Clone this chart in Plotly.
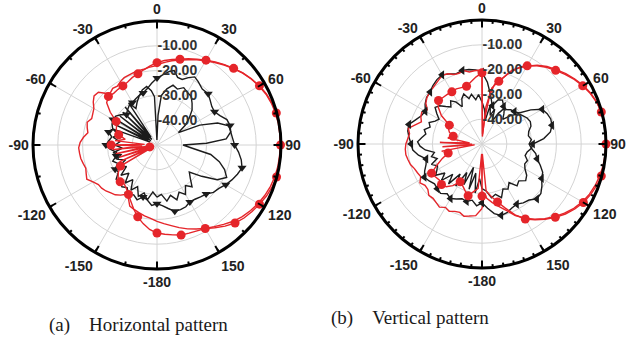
import plotly.graph_objects as go

# ---------------------------------------------------------------
# Radiation patterns, gain in dB versus azimuth angle (degrees,
# clockwise from 0 at the top).
# ---------------------------------------------------------------

# (a) Horizontal pattern
h_red1_theta = [-180, -175, -170, -165, -160, -155, -150, -145, -140, -135, -130, -125, -120,
                -117, -114, -111, -108, -105, -102, -99, -96, -93, -90, -87, -84, -80, -75,
                -70, -65, -60, -55, -50, -45, -40, -35, -30, -25, -20, -15, -10, -5, 0,
                5, 10, 15, 20, 25, 30, 35, 40, 45, 50, 55, 60, 65, 70, 75, 80, 85, 90,
                95, 100, 105, 110, 115, 120, 125, 130, 135, 140, 145, 150, 155, 160, 165,
                170, 175, 180]
h_red1_db = [-14.5, -15.8, -17.8, -20.0, -22.5, -25.0, -27.0, -28.5, -29.5, -29.0, -29.5, -31.0, -33.0,
             -47.0, -33.5, -46.0, -34.0, -47.0, -33.0, -46.0, -32.0, -44.0, -31.5, -45.0, -33.0, -37.0, -34.0,
             -32.5, -32.0, -31.0, -27.0, -23.5, -22.3, -22.8, -22.6, -22.5, -22.0, -21.0, -20.3, -19.2, -18.0, -16.8,
             -15.8, -15.0, -14.2, -13.0, -11.8, -10.5, -9.1, -7.7, -6.3, -4.8, -3.5, -2.3, -1.3, -0.6, -0.2, -0.1, -0.1, -0.2,
             -0.1, -0.1, -0.1, -0.6, -1.3, -2.3, -3.2, -4.2, -5.5, -7.3, -9.3, -11.1, -11.8, -12.2, -12.4,
             -13.2, -13.9, -14.5]

h_red2_theta = [-180, -175, -170, -165, -160, -156, -152, -148, -144, -140, -136, -132, -128, -124,
                -120, -116, -112, -108, -104, -100, -96, -92, -88, -84, -80, -76, -72, -68, -64,
                -60, -56, -52, -48, -45, -42, -38, -34, -30, -26, -22, -18, -14, -10, -6, -2,
                2, 6, 10, 15, 20, 25, 30, 35, 40, 45, 50, 55, 60, 65, 70, 75, 80, 85, 90,
                95, 100, 105, 110, 115, 120, 125, 130, 135, 140, 145, 150, 155, 160, 165,
                170, 175, 180]
h_red2_db = [-19.2, -20.3, -21.0, -21.8, -22.5, -23.0, -25.5, -26.6, -25.0, -23.8, -23.2, -22.3, -21.7, -21.5,
             -20.2, -18.5, -19.2, -19.8, -19.3, -18.8, -18.6, -18.4, -19.0, -20.2, -21.7, -21.0, -20.4, -21.6, -21.2,
             -20.6, -19.0, -17.8, -18.2, -20.5, -21.8, -21.0, -21.4, -20.5, -19.8, -19.6, -19.3, -19.1, -19.0, -18.5, -18.2,
             -17.2, -16.4, -15.5, -14.5, -13.4, -12.1, -10.8, -9.4, -7.9, -6.4, -4.9, -3.6, -2.5, -1.5, -0.9, -0.5, -0.3, -0.3, -0.3,
             -0.4, -0.5, -0.8, -1.3, -2.0, -2.9, -3.9, -5.1, -6.5, -8.2, -9.8, -11.2, -12.6, -14.0, -15.5,
             -17.0, -18.2, -19.2]

h_blk1_theta = [-180, -175, -170, -165, -160, -155, -150, -145, -140, -135, -130, -125, -120,
                -115, -110, -105, -100, -95, -90, -85, -80, -75, -70, -65, -60, -55, -50, -45,
                -40, -35, -30, -25, -20, -15, -10, -5, 0, 5, 10, 13, 17, 21, 25, 29, 33, 39,
                45, 50, 55, 60, 65, 70, 75, 80, 85, 90, 95, 100, 105, 110, 115, 120, 125, 130,
                135, 140, 145, 150, 155, 160, 165, 170, 175, 180]
h_blk1_db = [-26.3, -25.5, -27.5, -28.3, -26.5, -27.8, -27.0, -29.0, -28.0, -29.0, -28.5, -31.0, -30.5,
             -32.5, -31.0, -33.0, -33.4, -31.0, -29.4, -30.5, -31.5, -29.8, -31.0, -30.0, -29.5, -29.7, -31.0, -32.6,
             -31.5, -30.5, -30.2, -29.5, -28.8, -28.3, -27.0, -25.0, -23.0, -21.5, -19.8, -19.2, -21.5, -21.7, -20.0, -18.6, -19.5, -21.0,
             -20.8, -22.0, -23.0, -23.2, -22.0, -20.0, -19.5, -19.8, -19.4, -18.7, -17.0, -15.5, -14.5, -15.5, -16.7, -18.0, -19.5, -20.3,
             -22.0, -22.7, -23.3, -23.5, -22.5, -22.3, -22.3, -24.0, -25.5, -26.3]

h_blk2_theta = [-180, -175, -170, -165, -160, -155, -150, -145, -140, -135, -130, -125, -120,
                -115, -110, -105, -100, -95, -90, -85, -80, -75, -70, -67, -64, -61, -58, -55,
                -52, -49, -46, -43, -40, -37, -34, -30, -25, -20, -15, -10, -6, -3, -1, 2, 5,
                10, 15, 20, 25, 30, 35, 40, 45, 50, 55, 60, 65, 70, 75, 80, 85, 88, 90, 95,
                100, 105, 110, 115, 120, 125, 130, 135, 140, 145, 150, 155, 160, 165, 170, 175, 180]
h_blk2_db = [-29.0, -31.0, -27.5, -30.0, -28.0, -31.5, -29.0, -33.0, -30.0, -34.0, -31.0, -35.0, -32.0,
             -36.0, -33.0, -35.0, -32.0, -36.0, -33.0, -35.0, -32.0, -34.0, -31.0, -47.0, -31.0, -46.0, -30.5, -47.0,
             -31.0, -46.0, -31.0, -47.0, -30.0, -46.0, -29.5, -33.0, -31.0, -29.0, -27.0, -26.0, -28.0, -30.5, -48.0, -38.0, -30.0,
             -27.0, -25.0, -26.0, -24.5, -25.5, -26.0, -28.0, -30.0, -33.0, -36.0, -40.0, -31.0, -24.0, -20.0, -19.8, -22.0, -30.0, -39.5, -36.0,
             -28.0, -24.0, -21.0, -19.0, -22.0, -28.0, -33.0, -31.0, -28.0, -30.0, -27.0, -29.0, -26.5, -29.0, -27.0, -30.0, -29.0]

# (b) Vertical pattern
v_red1_theta = [-180, -178, -175, -170, -165, -160, -155, -150, -145, -140, -135, -130, -125, -120,
                -115, -110, -105, -100, -97, -94, -91, -88, -85, -80, -75, -70, -65, -60, -55,
                -50, -45, -40, -35, -30, -25, -20, -15, -10, -5, 0, 3, 6, 10, 15, 20, 25, 30,
                35, 40, 45, 50, 55, 60, 65, 70, 75, 80, 85, 90, 95, 100, 105, 110, 115, 120,
                125, 130, 135, 140, 145, 150, 155, 160, 165, 170, 175, 178, 180]
v_red1_db = [-29.0, -46.0, -32.0, -30.5, -28.4, -30.0, -31.5, -32.4, -29.5, -27.5, -26.9, -27.5, -27.0, -26.5,
             -30.0, -33.0, -35.9, -33.5, -47.0, -34.0, -46.0, -33.0, -45.0, -36.0, -38.0, -36.0, -35.0, -34.8, -30.0,
             -27.0, -25.2, -25.5, -25.6, -25.7, -25.5, -25.8, -25.9, -24.5, -22.8, -21.3, -47.0, -35.0, -27.0, -23.8, -20.0, -16.5, -13.6,
             -11.5, -9.6, -8.0, -6.3, -4.6, -3.1, -1.8, -0.8, -0.2, 0.0, 0.0, 0.0, 0.0, -0.1, -0.2, -0.8, -1.7, -2.8,
             -4.3, -6.1, -8.2, -10.4, -12.7, -15.1, -18.5, -22.5, -25.8, -28.5, -31.0, -46.0, -29.0]

v_red2_theta = [-180, -175, -170, -166, -162, -158, -154, -150, -146, -142, -138, -134, -130, -126,
                -122, -118, -114, -110, -106, -102, -98, -94, -90, -86, -82, -78, -74, -70, -66,
                -62, -58, -54, -50, -46, -42, -38, -34, -30, -26, -22, -18, -14, -10, -6, -3, 0,
                3, 6, 9, 12, 17, 22, 27, 31, 35, 40, 45, 50, 55, 60, 65, 70, 75, 80, 85, 90,
                95, 100, 105, 110, 115, 120, 125, 130, 135, 140, 145, 150, 155, 160, 165, 170,
                175, 177, 180]
v_red2_db = [-24.0, -21.0, -20.5, -20.0, -21.0, -20.7, -19.8, -20.5, -19.3, -20.0, -20.5, -20.2, -21.5, -21.6,
             -20.5, -22.0, -21.5, -21.0, -20.0, -19.5, -19.0, -19.0, -19.3, -20.0, -20.5, -19.6, -22.0, -24.0, -23.0,
             -22.5, -24.0, -22.0, -21.0, -20.4, -20.0, -19.5, -18.8, -18.0, -18.5, -19.8, -20.0, -19.5, -20.5, -20.3, -20.2, -20.5,
             -46.0, -40.0, -30.0, -25.3, -22.6, -18.0, -15.0, -13.3, -11.2, -9.2, -7.6, -5.9, -4.3, -2.8, -1.6, -0.7, -0.2, -0.1, -0.1, -0.1,
             -0.2, -0.4, -0.8, -1.4, -2.2, -3.3, -4.8, -6.6, -8.6, -10.7, -13.0, -15.5, -18.2, -21.5, -24.0, -26.0,
             -28.0, -30.0, -24.0]

v_blk1_theta = list(range(-180, 181, 5))
v_blk1_db = [-26.3, -25.0, -27.0, -26.0, -26.5, -25.5, -24.6, -25.5, -24.0, -24.5, -25.0, -24.0, -23.2,
             -24.5, -26.0, -26.7, -24.0, -22.0, -21.4, -20.5, -19.6, -19.5, -21.5, -23.0, -23.6, -22.0, -20.8,
             -20.4, -19.2, -18.3, -17.8, -18.8, -19.8, -19.3, -19.5, -20.0, -21.0,
             -25.0, -30.0, -34.0, -31.0, -30.5, -32.5, -33.0, -32.0, -31.5, -30.5, -26.0, -22.0, -21.0, -20.5,
             -20.8, -22.0, -25.0, -29.5, -30.0, -28.0, -27.0, -25.0, -23.0, -22.2, -20.5, -19.0, -18.7, -20.5,
             -21.0, -22.0, -21.5, -20.5, -20.2, -21.5, -24.0, -26.3]

v_blk2_theta = [-180, -176, -172, -168, -164, -160, -156, -152, -148, -144, -140, -136, -132, -128,
                -124, -120, -116, -112, -108, -104, -100, -96, -92, -88, -84, -80, -76, -72, -68,
                -64, -60, -56, -52, -48, -44, -40, -36, -32, -28, -24, -20, -16, -12, -8, -4, 0,
                4, 8, 12, 16, 20, 24, 28, 32, 36, 40, 45, 50, 55, 60, 65, 70, 75, 80, 85, 90,
                95, 100, 105, 110, 115, 120, 125, 130, 135, 140, 145, 150, 155, 160, 165, 170, 175, 180]
v_blk2_db = [-32.0, -36.0, -30.0, -38.0, -31.0, -40.0, -32.0, -37.0, -30.0, -35.0, -29.0, -33.0, -28.0, -31.0,
             -27.5, -29.0, -30.0, -28.0, -31.0, -29.0, -30.5, -27.0, -25.0, -24.0, -25.5, -27.0, -26.0, -28.0, -27.0,
             -29.0, -30.0, -28.0, -26.0, -27.0, -29.0, -30.5, -28.5, -30.0, -33.0, -30.0, -28.5, -31.0, -29.5, -32.0, -30.0, -33.0,
             -36.0, -40.0, -34.0, -38.0, -35.0, -40.0, -36.0, -33.0, -35.0, -37.0, -34.0, -31.0, -30.0, -29.0, -28.5, -29.0, -30.5, -31.0, -30.0, -31.0,
             -30.0, -31.5, -32.0, -30.5, -31.0, -30.0, -28.0, -27.0, -29.0, -28.0, -31.0, -29.0, -30.0, -27.0, -29.0, -28.0, -31.0, -32.0]

# Angular tick labels (clockwise, 0 at top)
ang_vals = [0, 30, 60, 90, 120, 150, 180, 210, 240, 270, 300, 330]
ang_text = ['0', '30', '60', '90', '120', '150', '-180', '-150', '-120', '-90', '-60', '-30']
rad_vals = [-40, -30, -20, -10]
rad_text = ['-40.00', '-30.00', '-20.00', '-10.00']

captions = ['(a)\u00a0\u00a0\u00a0\u00a0Horizontal pattern', '(b)\u00a0\u00a0\u00a0\u00a0Vertical pattern']

RED = '#e5252a'
BLACK = '#1c1c1c'
SANS = 'Liberation Sans, Arial, sans-serif'
SERIF = 'Liberation Serif, Times New Roman, serif'


def bold(labels):
    return ['<b>%s</b>' % s for s in labels]


def every_15(theta, r):
    pts = [(t, v) for t, v in zip(theta, r) if t % 15 == 0 and t != -180]
    return [p[0] for p in pts], [p[1] for p in pts]


fig = go.Figure()


def add_panel(sub, red1, red2, blk1, blk2, tri_symbol):
    for (th, rr) in (blk2, blk1):
        fig.add_trace(go.Scatterpolar(theta=th, r=rr, mode='lines', subplot=sub,
                                      line=dict(color=BLACK, width=1.4), showlegend=False))
    for (th, rr) in (red2, red1):
        fig.add_trace(go.Scatterpolar(theta=th, r=rr, mode='lines', subplot=sub,
                                      line=dict(color=RED, width=1.4), showlegend=False))
    mt, mr = every_15(*blk1)
    fig.add_trace(go.Scatterpolar(theta=mt, r=mr, mode='markers', subplot=sub,
                                  marker=dict(symbol=tri_symbol, size=8, color=BLACK),
                                  showlegend=False))
    mt, mr = every_15(*red1)
    fig.add_trace(go.Scatterpolar(theta=mt, r=mr, mode='markers', subplot=sub,
                                  marker=dict(symbol='circle', size=9, color=RED),
                                  showlegend=False))


add_panel('polar', (h_red1_theta, h_red1_db), (h_red2_theta, h_red2_db),
          (h_blk1_theta, h_blk1_db), (h_blk2_theta, h_blk2_db), 'triangle-down')
add_panel('polar2', (v_red1_theta, v_red1_db), (v_red2_theta, v_red2_db),
          (v_blk1_theta, v_blk1_db), (v_blk2_theta, v_blk2_db), 'triangle-left')

# empty traces so the minor-tick overlays get drawn
for sub in ('polar3', 'polar4'):
    fig.add_trace(go.Scatterpolar(theta=[], r=[], subplot=sub, showlegend=False))

W, H = 627, 338
centers = [(157, 145), (482, 144)]
RADIUS = 124


def dom(cx, cy):
    return dict(x=[(cx - RADIUS) / W, (cx + RADIUS) / W],
                y=[(H - cy - RADIUS) / H, (H - cy + RADIUS) / H])


def main_polar(cx, cy):
    return dict(
        domain=dom(cx, cy),
        bgcolor='white',
        radialaxis=dict(range=[-50, 0], tickvals=rad_vals, ticktext=bold(rad_text), angle=90,
                        side='clockwise', showline=False, ticks='', gridcolor='#d4d4d4',
                        gridwidth=1, tickfont=dict(family=SANS, size=14, color='#333333'),
                        tickangle=90),
        angularaxis=dict(direction='clockwise', rotation=90, tickmode='array',
                         tickvals=ang_vals, ticktext=bold(ang_text),
                         tickfont=dict(family=SANS, size=14, color='#222222'),
                         showline=True, linecolor='black', linewidth=3,
                         ticks='inside', ticklen=6, tickwidth=2, tickcolor='black',
                         gridcolor='#d4d4d4', gridwidth=1),
    )


def minor_polar(cx, cy, step):
    return dict(
        domain=dom(cx, cy),
        bgcolor='rgba(0,0,0,0)',
        radialaxis=dict(visible=False, range=[-50, 0]),
        angularaxis=dict(direction='clockwise', rotation=90, tickmode='array',
                         tickvals=list(range(0, 360, step)), showticklabels=False,
                         showline=False, showgrid=False, ticks='inside', ticklen=3,
                         tickwidth=1.5, tickcolor='black'),
    )


fig.update_layout(
    width=W, height=H,
    margin=dict(l=0, r=0, t=0, b=0),
    paper_bgcolor='white',
    showlegend=False,
    polar=main_polar(*centers[0]),
    polar2=main_polar(*centers[1]),
    polar3=minor_polar(*centers[0], 15),
    polar4=minor_polar(*centers[1], 5),
    annotations=[
        dict(text=captions[0], x=138.5 / W, y=(H - 325) / H, xref='paper', yref='paper',
             showarrow=False, xanchor='center', yanchor='middle',
             font=dict(family=SERIF, size=19, color='#1a1a1a')),
        dict(text=captions[1], x=410 / W, y=(H - 318) / H, xref='paper', yref='paper',
             showarrow=False, xanchor='center', yanchor='middle',
             font=dict(family=SERIF, size=19, color='#1a1a1a')),
    ],
)

fig.write_html('out.html')
